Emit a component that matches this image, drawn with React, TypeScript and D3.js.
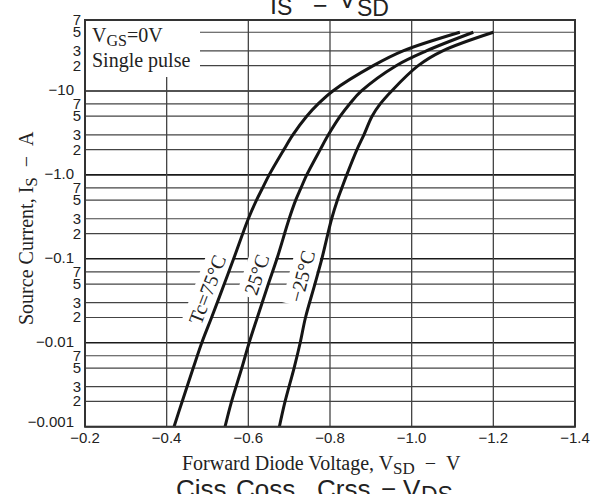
import React from 'react';
import * as d3 from 'd3';

const currents = [0.001, 0.002, 0.005, 0.01, 0.02, 0.05, 0.1, 0.3, 0.5, 0.7, 1, 2, 3, 5, 7, 10, 20, 30, 50];
const vTc75 = [0.418, 0.438, 0.465, 0.486, 0.510, 0.541, 0.564, 0.600, 0.620, 0.635, 0.651, 0.687, 0.709, 0.743, 0.771, 0.807, 0.906, 0.979, 1.118];
const vTc25 = [0.543, 0.559, 0.584, 0.602, 0.622, 0.649, 0.670, 0.700, 0.716, 0.729, 0.743, 0.776, 0.796, 0.825, 0.848, 0.877, 0.962, 1.036, 1.151];
const vTcM25 = [0.676, 0.690, 0.712, 0.727, 0.740, 0.763, 0.780, 0.804, 0.818, 0.829, 0.841, 0.866, 0.883, 0.903, 0.923, 0.951, 1.016, 1.076, 1.200];
const seriesNames = ['Tc=75°C', '25°C', '\u221225°C'];
const labelCurrents = [0.043, 0.065, 0.062];

const xTicks = [0.2, 0.4, 0.6, 0.8, 1.0, 1.2, 1.4];
const xTickLabels = ['\u22120.2', '\u22120.4', '\u22120.6', '\u22120.8', '\u22121.0', '\u22121.2', '\u22121.4'];
const decades = [0.001, 0.01, 0.1, 1, 10];
const decadeLabels = ['\u22120.001', '\u22120.01', '\u22120.1', '\u22121.0', '\u221210'];
const minorMultipliers = [2, 3, 5, 7];
const minorLabels = ['2', '3', '5', '7'];

const SERIF = '"Liberation Serif", "Times New Roman", serif';
const SANS = '"Liberation Sans", Arial, Helvetica, sans-serif';
const INK = '#222';

export default function App() {
  const left = 85, right = 575, top = 20, bottom = 426.7;
  const x = d3.scaleLinear().domain([0.2, 1.4]).range([left, right]);
  const y = d3.scaleLog().domain([0.001, 70]).range([bottom, top]);
  const line = d3
    .line<[number, number]>()
    .x((d) => x(d[0]))
    .y((d) => y(d[1]))
    .curve(d3.curveCatmullRom.alpha(0.5));

  const series = [vTc75, vTc25, vTcM25].map((vs) => vs.map((v, i) => [v, currents[i]] as [number, number]));

  const minorLines: { v: number; label: string }[] = [];
  decades.forEach((d) => {
    minorMultipliers.forEach((m, k) => {
      const v = d * m;
      if (v <= 70.0001) minorLines.push({ v, label: minorLabels[k] });
    });
  });

  const interp = (vs: number[], I: number) => {
    const li = Math.log10(I);
    for (let i = 0; i < currents.length - 1; i++) {
      const a = Math.log10(currents[i]), b = Math.log10(currents[i + 1]);
      if (li >= a && li <= b) {
        const t = (li - a) / (b - a);
        return vs[i] + t * (vs[i + 1] - vs[i]);
      }
    }
    return vs[0];
  };
  const labelW = [82, 48, 60];
  const labels = [vTc75, vTc25, vTcM25].map((vs, k) => {
    const I = labelCurrents[k];
    const cy = y(I);
    const cx = x(interp(vs, I)) - 15;
    const dx = x(interp(vs, 0.1)) - x(interp(vs, 0.01));
    const dy = y(0.1) - y(0.01);
    const ang = (Math.atan2(dy, dx) * 180) / Math.PI;
    return { cx, cy, ang, text: seriesNames[k], w: labelW[k] };
  });

  return (
    <svg width={606} height={494} style={{ position: 'absolute', left: 0, top: 0, background: '#fff' }}>
      <rect x={0} y={0} width={606} height={494} fill="#fff" />

      {/* top cropped title (from the chart above) */}
      <g fontFamily={SANS} fill={INK}>
        <text x={270} y={14} fontSize={25}>I</text>
        <text x={277} y={15} fontSize={23}>S</text>
        <text x={313} y={14} fontSize={25}>{'\u2212'}</text>
        <text x={339} y={8} fontSize={25}>V</text>
        <text x={357} y={16} fontSize={23}>SD</text>
      </g>

      {/* horizontal grid */}
      {minorLines.map((m, i) => (
        <line key={'mh' + i} x1={left} x2={right} y1={y(m.v)} y2={y(m.v)} stroke="#444" strokeWidth={1.2} />
      ))}
      {decades.map((d, i) => (
        <line key={'Mh' + i} x1={left} x2={right} y1={y(d)} y2={y(d)} stroke="#1a1a1a" strokeWidth={1.6} />
      ))}
      {/* vertical grid */}
      {xTicks.slice(1, -1).map((t, i) => (
        <line key={'v' + i} x1={x(t)} x2={x(t)} y1={top} y2={bottom} stroke="#444" strokeWidth={1.3} />
      ))}

      {/* legend box */}
      <rect x={left + 1} y={top + 1} width={114} height={56} fill="#fff" />
      <text x={92} y={42} fontFamily={SERIF} fontSize={20} fill={INK}>
        V<tspan dy={4} fontSize={16}>GS</tspan>
        <tspan dy={-4}>=0V</tspan>
      </text>
      <text x={92} y={67} fontFamily={SERIF} fontSize={20} fill={INK}>
        Single pulse
      </text>

      {/* curve labels */}
      {labels.map((l, i) => (
        <g key={'lb' + i} transform={`translate(${l.cx},${l.cy}) rotate(${l.ang})`}>
          <rect x={-l.w / 2} y={-13} width={l.w} height={26} fill="#fff" />
          <text x={0} y={0} dy="0.35em" textAnchor="middle" fontFamily={SERIF} fontSize={20} fill={INK}>
            {l.text}
          </text>
        </g>
      ))}

      {/* curves */}
      {series.map((s, i) => (
        <path key={'c' + i} d={line(s) || ''} fill="none" stroke="#151515" strokeWidth={3} />
      ))}

      {/* frame */}
      <rect x={left} y={top} width={right - left} height={bottom - top} fill="none" stroke="#333" strokeWidth={2} />

      {/* x tick labels */}
      {xTicks.map((t, i) => (
        <text key={'xt' + i} x={x(t)} y={443} textAnchor="middle" fontFamily={SANS} fontSize={15} fill={INK}>
          {xTickLabels[i]}
        </text>
      ))}
      {/* y tick labels */}
      {decades.map((d, i) => (
        <text key={'yM' + i} x={74} y={y(d) + (i === 0 ? 0 : 4)} textAnchor="end" fontFamily={SANS} fontSize={15} fill={INK}>
          {decadeLabels[i]}
        </text>
      ))}
      {minorLines.map((m, i) => (
        <text key={'ym' + i} x={81} y={y(m.v) + 5} textAnchor="end" fontFamily={SANS} fontSize={15} fill={INK}>
          {m.label}
        </text>
      ))}

      {/* axis titles */}
      <text x={182} y={470} fontFamily={SERIF} fontSize={20} fill={INK}>
        Forward Diode Voltage, V<tspan dy={4} fontSize={17}>SD</tspan>
        <tspan dy={-4}>{'\u2002\u2212\u2002V'}</tspan>
      </text>
      <text transform="translate(33,325) rotate(-90)" fontFamily={SERIF} fontSize={20} fill={INK}>
        Source Current, I<tspan dy={4} fontSize={17}>S</tspan>
        <tspan dy={-4}>{'\u2002\u2212\u2002A'}</tspan>
      </text>

      {/* bottom cropped title (of the chart below) */}
      <g fontFamily={SANS} fill={INK}>
        <text x={176} y={498} fontSize={26}>Ciss,</text>
        <text x={236} y={498} fontSize={26}>Coss,</text>
        <text x={317} y={498} fontSize={26}>Crss</text>
        <text x={381} y={498} fontSize={26}>{'\u2212'}</text>
        <text x={403} y={498} fontSize={26}>V</text>
        <text x={421} y={503} fontSize={23}>DS</text>
      </g>
    </svg>
  );
}
